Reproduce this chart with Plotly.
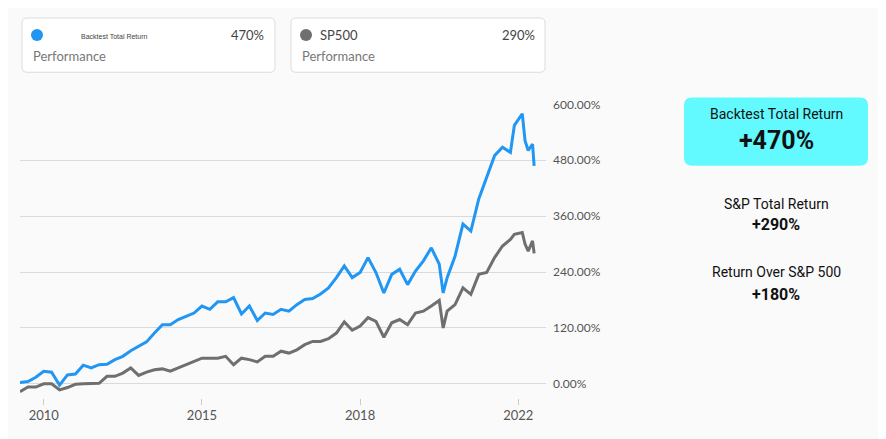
import plotly.graph_objects as go

# month index (equal spacing between labelled years, as in the source chart)
t = [0, 2, 4, 6, 8, 10, 12, 14, 16, 18, 20, 22, 24, 26, 28, 30, 32, 34, 36, 38,
     40, 42, 44, 46, 48, 50, 52, 54, 56, 58, 60, 62, 64, 66, 68, 70, 72, 74, 76, 78,
     80, 82, 84, 86, 88, 90, 92, 94, 96, 98, 100, 102, 104, 106, 107, 108, 110, 112,
     114, 116, 118, 120, 122, 124, 125, 127, 127.7, 128.5, 129.6, 130]
backtest = [3, 5, 14, 27, 25, -3, 19, 21, 40, 34, 41, 42, 52, 59, 71, 80, 90, 109, 127, 127,
            138, 145, 152, 167, 160, 176, 176, 185, 150, 167, 136, 152, 149, 160, 156, 170,
            181, 183, 193, 206, 228, 253, 228, 239, 271, 239, 195, 235, 246, 213, 242, 264,
            292, 257, 195, 228, 274, 343, 328, 397, 443, 490, 508, 497, 555, 580, 522, 501,
            515, 468]
sp500 = [-17, -7, -7, 0, 0, -13, -8, -1, 0, 0, 1, 16, 16, 23, 34, 18, 25, 30, 32, 27,
         34, 41, 47, 55, 55, 55, 59, 41, 55, 52, 47, 59, 59, 70, 66, 73, 84, 91, 91, 97,
         109, 133, 115, 124, 142, 134, 100, 131, 138, 127, 152, 156, 167, 179, 120, 156,
         170, 206, 192, 235, 239, 271, 296, 310, 321, 325, 300, 285, 307, 280]
tick_pos = [6, 46, 86, 126]
tick_text = ['2010', '2015', '2018', '2022']
y_ticks = [0, 120, 240, 360, 480, 600]

W, H = 886, 439
OFF_X, TOP, H_EFF = 8, 16, 429  # where the page actually shows the figure


def px(x):
    return (x - OFF_X) / W


def py(y):
    return 1 - (y - TOP) / H_EFF


def rounded(x0, y0, x1, y1, r):
    # rounded rectangle path in paper coords from pixel values
    X, Y = px, py
    rx, ry = r / W, r / H
    return (f"M{X(x0)+rx},{Y(y0)} L{X(x1)-rx},{Y(y0)} Q{X(x1)},{Y(y0)} {X(x1)},{Y(y0)-ry} "
            f"L{X(x1)},{Y(y1)+ry} Q{X(x1)},{Y(y1)} {X(x1)-rx},{Y(y1)} "
            f"L{X(x0)+rx},{Y(y1)} Q{X(x0)},{Y(y1)} {X(x0)},{Y(y1)+ry} "
            f"L{X(x0)},{Y(y0)-ry} Q{X(x0)},{Y(y0)} {X(x0)+rx},{Y(y0)} Z")


fig = go.Figure()
fig.add_trace(go.Scatter(x=t, y=sp500, mode='lines', line=dict(color='#6f6f6f', width=3)))
fig.add_trace(go.Scatter(x=t, y=backtest, mode='lines', line=dict(color='#2196f3', width=3)))

shapes = [
    dict(type='path', xref='paper', yref='paper', path=rounded(22, 18, 275, 72, 5),
         line=dict(color='#dcdcdc', width=1), fillcolor='white'),
    dict(type='path', xref='paper', yref='paper', path=rounded(291, 18, 545, 72, 5),
         line=dict(color='#dcdcdc', width=1), fillcolor='white'),
    dict(type='path', xref='paper', yref='paper', path=rounded(684, 97, 868, 165, 8),
         line=dict(width=0), fillcolor='#62f9ff'),
    dict(type='circle', xref='paper', yref='paper', x0=px(31), x1=px(43), y0=py(41), y1=py(29),
         fillcolor='#2196f3', line=dict(width=0)),
    dict(type='circle', xref='paper', yref='paper', x0=px(300), x1=px(312), y0=py(41), y1=py(29),
         fillcolor='#6f6f6f', line=dict(width=0)),
]


def txt(x, y, s, size, color='#333', anchor='left', family='Lato'):
    return dict(x=px(x), y=py(y), xref='paper', yref='paper', text=s, showarrow=False,
                xanchor=anchor, yanchor='middle', font=dict(size=size, color=color, family=family))


annotations = [
    txt(79, 36, 'Backtest Total Return', 7, '#444', family='Liberation Sans'),
    txt(266, 35, '470%', 13, '#444', 'right'),
    txt(31, 56, 'Performance', 13, '#777'),
    txt(318, 35, 'SP500', 13, '#444'),
    txt(537, 35, '290%', 13, '#444', 'right'),
    txt(300, 56, 'Performance', 13, '#777'),
    txt(776, 114, 'Backtest Total Return', 14, '#111', 'center', 'Roboto'),
    txt(776, 140, '<b>+470%</b>', 25, '#111', 'center', 'Roboto'),
    txt(776, 203, 'S&P Total Return', 14, '#111', 'center', 'Roboto'),
    txt(776, 224, '<b>+290%</b>', 16, '#111', 'center', 'Roboto'),
    txt(776, 271, 'Return Over S&P 500', 14, '#111', 'center', 'Roboto'),
    txt(776, 293, '<b>+180%</b>', 16, '#111', 'center', 'Roboto'),
]

fig.update_layout(
    width=W, height=H, margin=dict(l=0, r=0, t=0, b=0),
    paper_bgcolor='#fafafa', plot_bgcolor='#fafafa', showlegend=False,
    shapes=shapes, annotations=annotations,
    font=dict(family='Lato', color='#555', size=12),
    xaxis=dict(domain=[px(20), px(546)], range=[0, 133], tickvals=tick_pos, ticktext=tick_text,
               showgrid=False, zeroline=False, ticks='outside', ticklen=6, tickcolor='#ccc',
               tickfont=dict(size=13, color='#555')),
    yaxis=dict(domain=[py(396), py(104)], range=[-30, 600], side='right', tickvals=y_ticks,
               ticktext=[f'{v:.2f}%' for v in y_ticks], gridcolor='#dadada', gridwidth=1,
               zeroline=False, tickfont=dict(size=12, color='#555'), ticklabelstandoff=6),
)

fig.write_html("out.html")
